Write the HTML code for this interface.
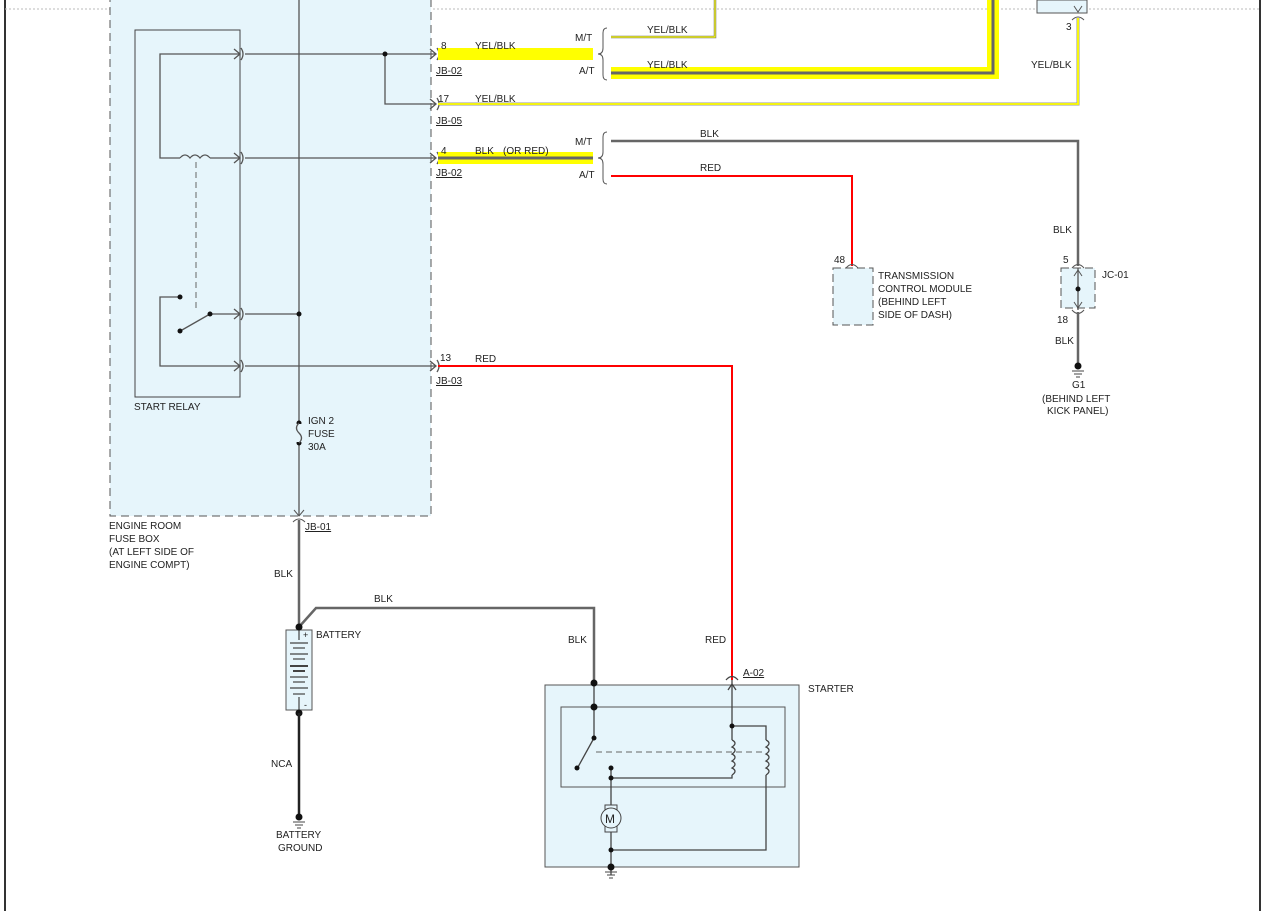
<!DOCTYPE html>
<html><head><meta charset="utf-8"><style>
html,body{margin:0;padding:0;background:#fff;}
svg{display:block;}
text{font-family:"Liberation Sans",Arial,sans-serif;font-size:10px;fill:#222;}
</style></head><body>
<svg width="1269" height="911" viewBox="0 0 1269 911" xmlns="http://www.w3.org/2000/svg">
<!-- page frame -->
<line x1="5" y1="0" x2="5" y2="911" stroke="#333" stroke-width="2"/>
<line x1="1260" y1="0" x2="1260" y2="911" stroke="#333" stroke-width="2"/>
<line x1="5" y1="9" x2="1260" y2="9" stroke="#bbb" stroke-dasharray="2,2"/>

<!-- fuse box -->
<rect x="110" y="-5" width="321" height="521" fill="#e6f5fb" stroke="#555" stroke-dasharray="8,5"/>
<rect x="135" y="30" width="105" height="367" fill="#e6f5fb" stroke="#444"/>
<line x1="299" y1="0" x2="299" y2="516" stroke="#555" stroke-width="1.3"/>

<g fill="none" stroke="#555" stroke-width="1.3">
<!-- relay inner loop -->
<polyline points="240,54 160,54 160,158 180,158"/>
<path d="M180,158 q5,-6 10,0 q5,-6 10,0 q5,-6 10,0"/>
<line x1="210" y1="158" x2="240" y2="158"/>
<polyline points="180,297 160,297 160,366 240,366"/>
<line x1="182" y1="330" x2="210" y2="314"/>
<line x1="210" y1="314" x2="240" y2="314"/>
<!-- to pins -->
<line x1="245" y1="54" x2="436" y2="54"/>
<polyline points="385,54 385,104 436,104"/>
<line x1="245" y1="158" x2="436" y2="158"/>
<line x1="245" y1="314" x2="299" y2="314"/>
<line x1="245" y1="366" x2="436" y2="366"/>
<!-- arrows -->
<path d="M234,49 l6,5 l-6,5 M234,153 l6,5 l-6,5 M234,309 l6,5 l-6,5 M234,361 l6,5 l-6,5"/>
<path d="M241,48 q4,6 0,12 M241,152 q4,6 0,12 M241,308 q4,6 0,12 M241,360 q4,6 0,12"/>
<path d="M430,49 l6,5 l-6,5 M430,99 l6,5 l-6,5 M430,153 l6,5 l-6,5 M430,361 l6,5 l-6,5"/>
<path d="M437,48 q4,6 0,12 M437,98 q4,6 0,12 M437,152 q4,6 0,12 M437,360 q4,6 0,12"/>
</g>
<line x1="196" y1="162" x2="196" y2="310" stroke="#666" stroke-dasharray="6,4"/>
<g fill="#111">
<circle cx="385" cy="54" r="2.5"/><circle cx="180" cy="297" r="2.5"/><circle cx="180" cy="331" r="2.5"/>
<circle cx="210" cy="314" r="2.5"/><circle cx="299" cy="314" r="2.5"/>
<circle cx="299" cy="423" r="2.5"/><circle cx="299" cy="443" r="2.5"/>
</g>
<!-- fuse symbol -->
<rect x="294" y="424" width="10" height="18" fill="#e6f5fb"/>
<path d="M299,423 q-5,5 0,10 q5,5 0,10" fill="none" stroke="#555" stroke-width="1.3"/>

<!-- harness: yellow thick -->
<rect x="438" y="48" width="155" height="12" fill="#ffff00"/>
<rect x="438" y="152" width="155" height="12" fill="#ffff00"/>
<line x1="438" y1="158" x2="593" y2="158" stroke="#666" stroke-width="3"/>
<!-- braces -->
<path d="M607,28 q-4,0 -4,5 v15 q0,6 -5,6 q5,0 5,6 v15 q0,5 4,5" fill="none" stroke="#555"/>
<path d="M607,132 q-4,0 -4,5 v15 q0,6 -5,6 q5,0 5,6 v15 q0,5 4,5" fill="none" stroke="#555"/>
<!-- M/T yellow thin -->
<polyline points="611,37 715,37 715,0" fill="none" stroke="#777" stroke-width="2.5"/>
<polyline points="611,37 715,37 715,0" fill="none" stroke="#ffff00" stroke-width="1.2"/>
<!-- A/T yellow thick -->
<polyline points="611,73 993,73 993,0" fill="none" stroke="#ffff00" stroke-width="12"/>
<polyline points="611,73 993,73 993,0" fill="none" stroke="#666" stroke-width="3"/>
<!-- 17 yellow thin -->
<polyline points="438,104 1078,104 1078,18" fill="none" stroke="#999" stroke-width="3"/>
<polyline points="438,104 1078,104 1078,18" fill="none" stroke="#ffff00" stroke-width="1.8"/>
<!-- BLK M/T -->
<polyline points="611,141 1078,141 1078,266" fill="none" stroke="#666" stroke-width="2.5"/>
<!-- RED A/T -->
<polyline points="611,176 852,176 852,266" fill="none" stroke="#ff0000" stroke-width="2"/>
<!-- 13 RED -->
<polyline points="438,366 732,366 732,680" fill="none" stroke="#ff0000" stroke-width="2"/>

<!-- top right connector -->
<rect x="1037" y="0" width="50" height="13" fill="#e6f5fb" stroke="#555"/>
<path d="M1072,20 q6,-6 12,0" fill="none" stroke="#555"/>
<path d="M1074,6 l4,6 l4,-6" fill="none" stroke="#555"/>

<!-- TCM -->
<rect x="833" y="268" width="40" height="57" fill="#e6f5fb" stroke="#555" stroke-dasharray="8,4"/>
<path d="M846,268 q6,-7 12,0" fill="none" stroke="#555"/>
<!-- JC-01 -->
<rect x="1061" y="268" width="34" height="40" fill="#e6f5fb" stroke="#555" stroke-dasharray="8,4"/>
<path d="M1072,268 q6,-7 12,0 M1072,310 q6,7 12,0" fill="none" stroke="#555"/>
<line x1="1078" y1="268" x2="1078" y2="310" stroke="#555" stroke-width="1.3"/>
<path d="M1074,276 l4,-6 l4,6 M1074,302 l4,6 l4,-6" fill="none" stroke="#555"/>
<circle cx="1078" cy="289" r="2.5" fill="#111"/>
<line x1="1078" y1="312" x2="1078" y2="365" stroke="#666" stroke-width="2.5"/>
<circle cx="1078" cy="366" r="3.5" fill="#111"/>
<path d="M1072,371 h12 M1074,374 h8 M1076,377 h4" stroke="#444"/>

<!-- JB-01 / battery -->
<path d="M294,510 l5,6 l5,-6 M293,522 q6,-6 12,0" fill="none" stroke="#555"/>
<line x1="299" y1="520" x2="299" y2="627" stroke="#666" stroke-width="2.5"/>
<polyline points="299,627 316,608 594,608 594,683" fill="none" stroke="#666" stroke-width="2.5"/>
<rect x="286" y="630" width="26" height="80" fill="#e6f5fb" stroke="#555"/>
<g stroke="#444" stroke-width="1.2">
<line x1="299" y1="630" x2="299" y2="640"/>
<line x1="290" y1="643" x2="308" y2="643"/><line x1="293" y1="648" x2="305" y2="648"/>
<line x1="290" y1="654" x2="308" y2="654"/><line x1="293" y1="659" x2="305" y2="659"/>
<line x1="290" y1="666" x2="308" y2="666" stroke-width="2"/><line x1="293" y1="671" x2="305" y2="671" stroke-width="2"/>
<line x1="290" y1="677" x2="308" y2="677"/><line x1="293" y1="682" x2="305" y2="682"/>
<line x1="290" y1="688" x2="308" y2="688"/><line x1="293" y1="694" x2="305" y2="694"/>
<line x1="299" y1="697" x2="299" y2="710"/>
</g>
<text x="303" y="638" style="font-size:9px">+</text>
<text x="304" y="708" style="font-size:9px">-</text>
<circle cx="299" cy="627" r="3.5" fill="#111"/>
<circle cx="299" cy="713" r="3.5" fill="#111"/>
<line x1="299" y1="713" x2="299" y2="815" stroke="#222" stroke-width="2.5"/>
<circle cx="299" cy="817" r="3.5" fill="#111"/>
<path d="M293,822 h12 M295,825 h8 M297,828 h4" stroke="#444"/>

<!-- starter -->
<rect x="545" y="685" width="254" height="182" fill="#e6f5fb" stroke="#555"/>
<rect x="561" y="707" width="224" height="80" fill="#e6f5fb" stroke="#555"/>
<g fill="none" stroke="#444" stroke-width="1.3">
<line x1="594" y1="683" x2="594" y2="738"/>
<line x1="594" y1="738" x2="578" y2="767"/>
<line x1="732" y1="680" x2="732" y2="726"/>
<path d="M728,690 l4,-6 l4,6"/>
<path d="M726,680 q6,-7 12,0"/>
<polyline points="732,726 766,726 766,740"/>
<path d="M732,740 q6,3 0,7 q6,3 0,7 q6,3 0,7 q6,3 0,7 q6,3 0,7"/>
<path d="M766,740 q6,3 0,7 q6,3 0,7 q6,3 0,7 q6,3 0,7 q6,3 0,7"/>
<line x1="732" y1="740" x2="732" y2="726"/>
<polyline points="732,775 732,778 611,778"/>
<line x1="611" y1="768" x2="611" y2="805"/>
<line x1="611" y1="832" x2="611" y2="867"/>
<polyline points="766,775 766,850 611,850"/>
<line x1="611" y1="870" x2="611" y2="875"/>
</g>
<line x1="596" y1="752" x2="766" y2="752" stroke="#666" stroke-dasharray="6,4"/>
<rect x="605" y="805" width="12" height="27" fill="#e6f5fb" stroke="#444"/>
<circle cx="611" cy="818" r="10" fill="#e6f5fb" stroke="#444"/>
<text x="605" y="823" style="font-size:12px">M</text>
<g fill="#111">
<circle cx="594" cy="683" r="3.5"/><circle cx="594" cy="707" r="3.5"/><circle cx="594" cy="738" r="2.5"/>
<circle cx="577" cy="768" r="2.5"/><circle cx="611" cy="768" r="2.5"/><circle cx="611" cy="778" r="2.5"/>
<circle cx="732" cy="726" r="2.5"/><circle cx="611" cy="850" r="2.5"/><circle cx="611" cy="867" r="3.5"/>
</g>
<path d="M605,872 h12 M607,875 h8 M609,878 h4" stroke="#444"/>

<!-- labels -->
<text x="441" y="49">8</text><text x="475" y="49">YEL/BLK</text>
<text x="436" y="74" text-decoration="underline">JB-02</text>
<text x="438" y="102">17</text><text x="475" y="102">YEL/BLK</text>
<text x="436" y="124" text-decoration="underline">JB-05</text>
<text x="441" y="154">4</text><text x="475" y="154">BLK</text><text x="503" y="154">(OR RED)</text>
<text x="436" y="176" text-decoration="underline">JB-02</text>
<text x="440" y="361">13</text><text x="475" y="362">RED</text>
<text x="436" y="384" text-decoration="underline">JB-03</text>
<text x="575" y="41">M/T</text><text x="579" y="74">A/T</text>
<text x="575" y="145">M/T</text><text x="579" y="178">A/T</text>
<text x="647" y="33">YEL/BLK</text><text x="647" y="68">YEL/BLK</text>
<text x="700" y="137">BLK</text><text x="700" y="171">RED</text>
<text x="1066" y="30">3</text><text x="1031" y="68">YEL/BLK</text>
<text x="1053" y="233">BLK</text>
<text x="1063" y="263">5</text><text x="1102" y="278">JC-01</text>
<text x="1057" y="323">18</text><text x="1055" y="344">BLK</text>
<text x="1072" y="388">G1</text>
<text x="1042" y="402">(BEHIND LEFT</text><text x="1047" y="414">KICK PANEL)</text>
<text x="834" y="263">48</text>
<text x="878" y="279">TRANSMISSION</text><text x="878" y="292">CONTROL MODULE</text>
<text x="878" y="305">(BEHIND LEFT</text><text x="878" y="318">SIDE OF DASH)</text>
<text x="134" y="410">START RELAY</text>
<text x="308" y="424">IGN 2</text><text x="308" y="437">FUSE</text><text x="308" y="450">30A</text>
<text x="109" y="529">ENGINE ROOM</text><text x="109" y="542">FUSE BOX</text>
<text x="109" y="555">(AT LEFT SIDE OF</text><text x="109" y="568">ENGINE COMPT)</text>
<text x="305" y="530" text-decoration="underline">JB-01</text>
<text x="274" y="577">BLK</text><text x="374" y="602">BLK</text>
<text x="316" y="638">BATTERY</text>
<text x="568" y="643">BLK</text><text x="705" y="643">RED</text>
<text x="743" y="676" text-decoration="underline">A-02</text>
<text x="808" y="692">STARTER</text>
<text x="271" y="767">NCA</text>
<text x="276" y="838">BATTERY</text><text x="278" y="851">GROUND</text>
</svg>
</body></html>
